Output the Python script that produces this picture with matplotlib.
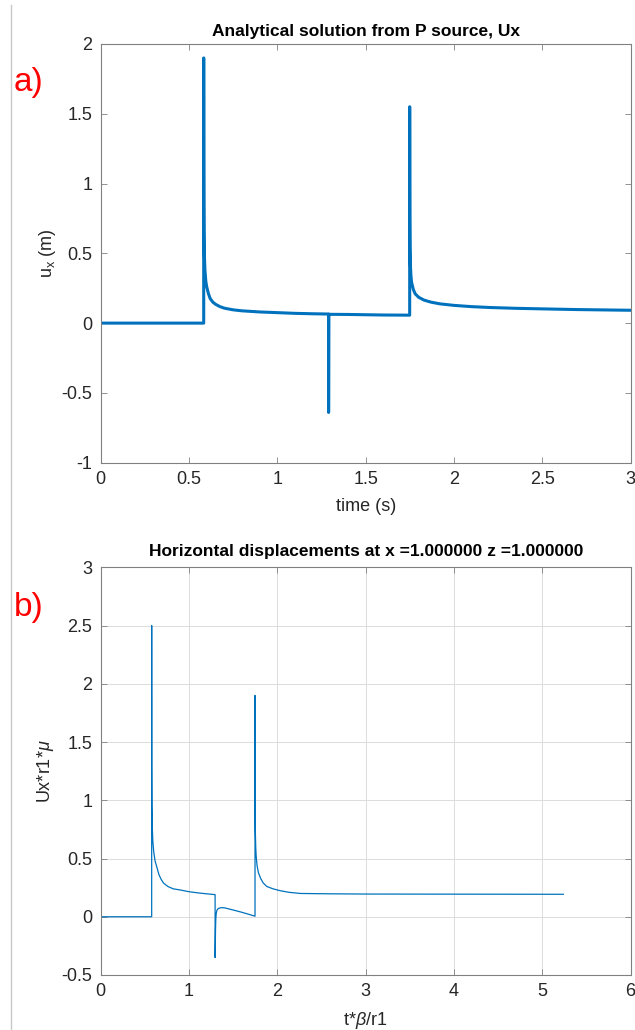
import matplotlib
matplotlib.use("Agg")
import matplotlib.pyplot as plt
from matplotlib.ticker import FuncFormatter
from matplotlib.lines import Line2D

plt.rcParams['font.family'] = ['Liberation Sans', 'DejaVu Sans']
plt.rcParams['axes.unicode_minus'] = False
plt.rcParams['mathtext.fontset'] = 'custom'
plt.rcParams['mathtext.it'] = 'Liberation Sans:italic'
plt.rcParams['mathtext.rm'] = 'Liberation Sans'

# ----------------------------
# DATA
# ----------------------------
# a) analytical solution, P source
t_a = [0, 0.583, 0.583, 0.5835, 0.584, 0.585, 0.587, 0.59, 0.595, 0.60,
       0.61, 0.62, 0.635, 0.65, 0.675, 0.70, 0.75, 0.80, 0.90, 1.00, 1.10,
       1.20, 1.29, 1.29, 1.291, 1.40, 1.50, 1.60, 1.749, 1.749, 1.7495, 1.750,
       1.751, 1.753, 1.756, 1.76, 1.77, 1.78, 1.80, 1.83, 1.87, 1.92, 2.00,
       2.10, 2.20, 2.35, 2.50, 2.70, 3.00]
ux_a = [0, 0, 1.9, 1.2, 0.9, 0.65, 0.48, 0.38, 0.30, 0.26,
        0.21, 0.175, 0.15, 0.135, 0.118, 0.107, 0.095, 0.088, 0.08, 0.075, 0.07,
        0.067, 0.065, -0.64, 0.063, 0.062, 0.06, 0.058, 0.057, 1.55, 1.0, 0.75,
        0.55, 0.42, 0.34, 0.29, 0.24, 0.21, 0.185, 0.165, 0.15, 0.138, 0.127,
        0.118, 0.112, 0.106, 0.102, 0.097, 0.092]

# b) horizontal displacements, normalised
t_b = [0, 0.577, 0.577, 0.578, 0.58, 0.585, 0.59, 0.60, 0.615, 0.634, 0.66,
       0.685, 0.71, 0.76, 0.82, 0.90, 1.00, 1.10, 1.20, 1.295, 1.295, 1.298,
       1.30, 1.303, 1.308, 1.315, 1.33, 1.36, 1.40, 1.50, 1.60, 1.747, 1.747,
       1.748, 1.75, 1.755, 1.76, 1.77, 1.785, 1.81, 1.84, 1.88, 1.95, 2.03,
       2.13, 2.26, 2.6, 3.0, 4.0, 5.237]
u_b = [0, 0, 2.5, 1.3, 0.95, 0.75, 0.65, 0.56, 0.48, 0.43, 0.36,
       0.32, 0.29, 0.26, 0.24, 0.23, 0.215, 0.205, 0.197, 0.19, -0.35, -0.2,
       -0.1, -0.02, 0.03, 0.055, 0.07, 0.078, 0.077, 0.058, 0.038, 0.005, 1.9,
       1.0, 0.75, 0.6, 0.52, 0.44, 0.38, 0.33, 0.29, 0.26, 0.24, 0.224,
       0.21, 0.2, 0.197, 0.195, 0.194, 0.193]

xticks_a = [0, 0.5, 1, 1.5, 2, 2.5, 3]
yticks_a = [-1, -0.5, 0, 0.5, 1, 1.5, 2]
xticks_b = [0, 1, 2, 3, 4, 5, 6]
yticks_b = [-0.5, 0, 0.5, 1, 1.5, 2, 2.5, 3]

BLUE = '#0072BD'
AXC = '#262626'
fmt = FuncFormatter(lambda v, p: '%g' % v)


def style_axes(ax):
    for s in ax.spines.values():
        s.set_color('#808080')
        s.set_linewidth(0.8)
    ax.tick_params(direction='in', length=4, width=0.6, colors='#808080',
                   labelcolor=AXC, labelsize=13, top=True, right=True, pad=6)
    ax.xaxis.set_major_formatter(fmt)
    ax.yaxis.set_major_formatter(fmt)


fig = plt.figure(figsize=(6.35, 10.3), dpi=100)

# ----------------------------
# a)
# ----------------------------
ax1 = fig.add_axes([0.1586, 0.5508, 0.8346, 0.4065])
ax1.plot(t_a, ux_a, color=BLUE, lw=2.2)
ax1.set_xlim(0, 3)
ax1.set_ylim(-1, 2)
ax1.set_xticks(xticks_a)
ax1.set_yticks(yticks_a)
style_axes(ax1)
ax1.set_title('Analytical solution from P source, Ux', fontsize=12.5,
              fontweight='bold', color='black', pad=6)
ax1.set_xlabel('time (s)', fontsize=13, color=AXC, labelpad=7)
ax1.set_ylabel('u$_{\\mathrm{x}}$ (m)', fontsize=13, color=AXC)
ax1.yaxis.set_label_coords(-0.08, 0.5)

# ----------------------------
# b)
# ----------------------------
ax2 = fig.add_axes([0.1586, 0.0534, 0.8346, 0.3958])
ax2.plot(t_b, u_b, color=BLUE, lw=0.9)
ax2.set_xlim(0, 6)
ax2.set_ylim(-0.5, 3)
ax2.set_xticks(xticks_b)
ax2.set_yticks(yticks_b)
ax2.grid(True, color='#dcdcdc', lw=0.7)
ax2.set_axisbelow(True)
style_axes(ax2)
ax2.set_title('Horizontal displacements at x =1.000000 z =1.000000',
              fontsize=12.5, fontweight='bold', color='black', pad=8)
ax2.set_xlabel('t*$\\it{\\beta}$/r1', fontsize=13, color=AXC, labelpad=7)
ax2.set_ylabel('Ux*r1*$\\it{\\mu}$', fontsize=13, color=AXC)
ax2.yaxis.set_label_coords(-0.085, 0.5)

# panel letters
fig.text(0.022, 0.920, 'a)', color='red', fontsize=24, va='center')
fig.text(0.022, 0.410, 'b)', color='red', fontsize=24, va='center')

# thin grey border line at the left
fig.add_artist(Line2D([11 / 635, 11 / 635], [0, 1 - 5 / 1030],
                      transform=fig.transFigure, color='#c8c8c8', lw=1))

fig.savefig('out.png', dpi=100)
